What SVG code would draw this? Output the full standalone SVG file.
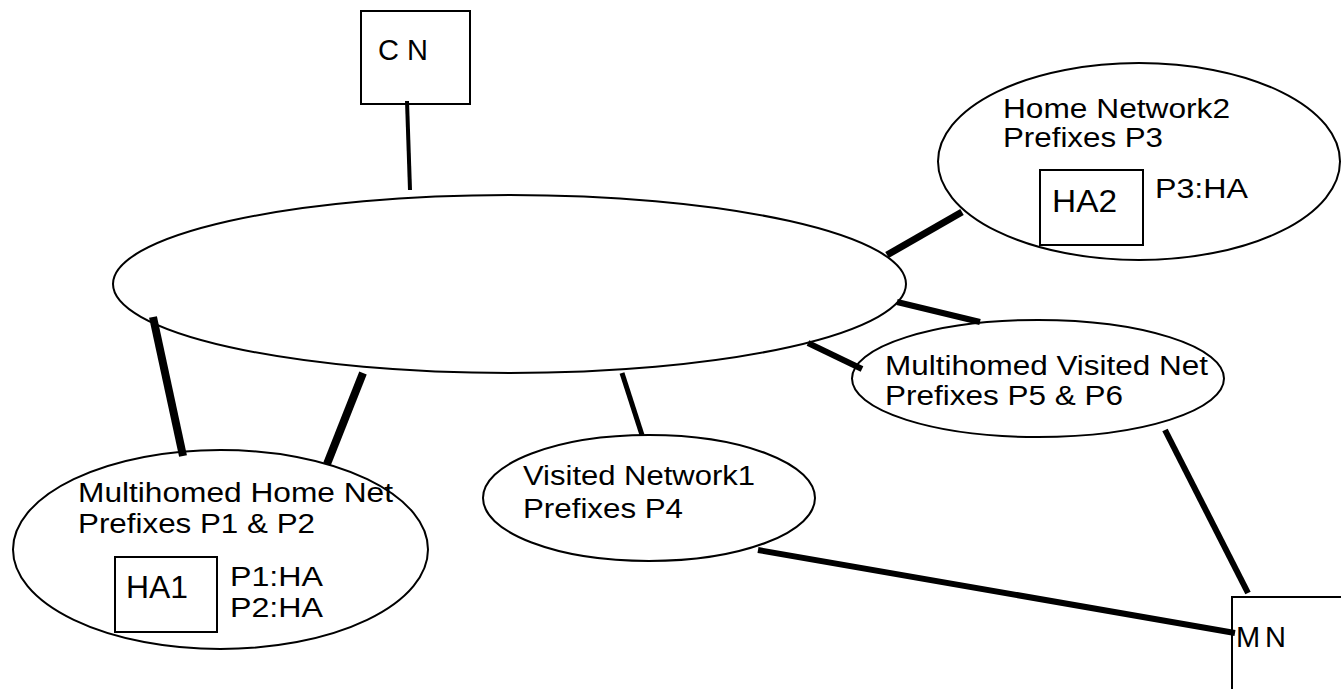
<svg xmlns="http://www.w3.org/2000/svg" width="1341" height="689" viewBox="0 0 1341 689">
<style>
.shape{fill:none;stroke:#000;stroke-width:2}
.bg{fill:#fff}
text{font-family:"Liberation Sans",Arial,Helvetica,sans-serif;fill:#000}
.lbl{font-size:27px}
.box{font-size:31px}
.pha{font-size:28px}
.term{font-size:29px}
.conn line{stroke:#000;stroke-linecap:butt}
</style>
<rect class="bg" x="0" y="0" width="1341" height="689"/>
<g id="core">
<ellipse class="shape" cx="509.5" cy="284" rx="396.5" ry="89"/>
</g>
<g id="cn">
<rect class="shape" x="361" y="11" width="109" height="93"/>
<text class="term" x="378" y="60" textLength="50" lengthAdjust="spacing">CN</text>
</g>
<g id="home2">
<ellipse class="shape" cx="1139" cy="161.5" rx="201" ry="98.5"/>
<text class="lbl" x="1003" y="118" textLength="227" lengthAdjust="spacingAndGlyphs">Home Network2</text>
<text class="lbl" x="1003" y="147" textLength="160" lengthAdjust="spacingAndGlyphs">Prefixes P3</text>
<g id="ha2">
<rect class="shape" x="1040" y="170" width="103" height="75"/>
<text class="box" x="1052" y="212" textLength="65" lengthAdjust="spacingAndGlyphs">HA2</text>
</g>
<text class="pha" x="1155" y="198" textLength="93" lengthAdjust="spacingAndGlyphs">P3:HA</text>
</g>
<g id="mvisited">
<ellipse class="shape" cx="1038" cy="378.5" rx="186" ry="58.5"/>
<text class="lbl" x="885" y="375" textLength="323" lengthAdjust="spacingAndGlyphs">Multihomed Visited Net</text>
<text class="lbl" x="885" y="405" textLength="238" lengthAdjust="spacingAndGlyphs">Prefixes P5 &amp; P6</text>
</g>
<g id="visited1">
<ellipse class="shape" cx="649" cy="498" rx="166" ry="63"/>
<text class="lbl" x="523" y="485" textLength="232" lengthAdjust="spacingAndGlyphs">Visited Network1</text>
<text class="lbl" x="523" y="518" textLength="160" lengthAdjust="spacingAndGlyphs">Prefixes P4</text>
</g>
<g id="mhome">
<ellipse class="shape" cx="220.5" cy="549.5" rx="207.5" ry="99.5"/>
<text class="lbl" x="78" y="502" textLength="315" lengthAdjust="spacingAndGlyphs">Multihomed Home Net</text>
<text class="lbl" x="78" y="533" textLength="237" lengthAdjust="spacingAndGlyphs">Prefixes P1 &amp; P2</text>
<g id="ha1">
<rect class="shape" x="115" y="557" width="102" height="75"/>
<text class="box" x="126" y="598" textLength="62" lengthAdjust="spacingAndGlyphs">HA1</text>
</g>
<text class="pha" x="230" y="586" textLength="93" lengthAdjust="spacingAndGlyphs">P1:HA</text>
<text class="pha" x="230" y="617" textLength="93" lengthAdjust="spacingAndGlyphs">P2:HA</text>
</g>
<g id="mn">
<rect class="shape" x="1232" y="597" width="130" height="110"/>
<text class="term" x="1236" y="647" textLength="50" lengthAdjust="spacing">MN</text>
</g>
<g id="connectors" class="conn">
<line x1="407" y1="101" x2="410" y2="190" stroke-width="4"/>
<line x1="153" y1="317" x2="183" y2="456" stroke-width="8"/>
<line x1="363" y1="373" x2="327" y2="464" stroke-width="8"/>
<line x1="622" y1="373" x2="642" y2="435" stroke-width="5"/>
<line x1="808" y1="343" x2="862" y2="369" stroke-width="6"/>
<line x1="897" y1="302" x2="980" y2="322" stroke-width="6"/>
<line x1="887" y1="255" x2="962" y2="212" stroke-width="7"/>
<line x1="1165" y1="430" x2="1248" y2="593" stroke-width="6"/>
<line x1="758" y1="550" x2="1235" y2="633" stroke-width="6"/>
</g>
</svg>
